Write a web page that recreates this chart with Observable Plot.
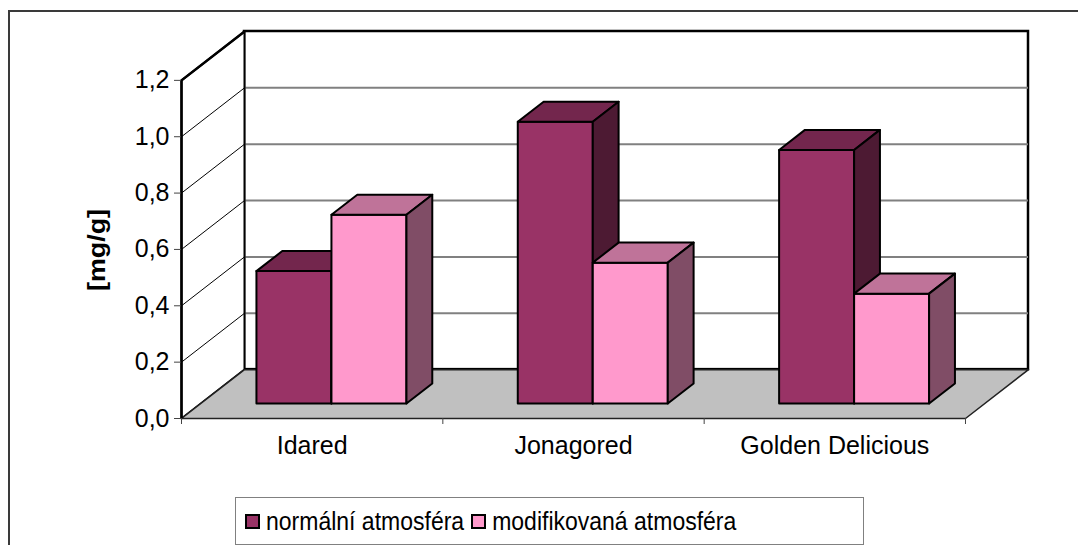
<!DOCTYPE html>
<html>
<head>
<meta charset="utf-8">
<script src="https://cdn.jsdelivr.net/npm/d3@7"></script>
<script src="https://cdn.jsdelivr.net/npm/@observablehq/plot@0.6"></script>
<style>
  html, body { margin: 0; padding: 0; background: #fff; overflow: hidden; }
  body { width: 1078px; height: 545px; position: relative; font-family: "Liberation Sans", Arial, sans-serif; }
  #frame { position: absolute; left: 8px; top: 10px; width: 1200px; height: 700px; border: 2px solid #3a3a3a; box-sizing: border-box; }
  #chart { position: absolute; left: 0; top: 0; }
  #ytitle { position: absolute; left: 97px; top: 250px; transform: translate(-50%, -50%) rotate(-90deg) scaleX(1.12); font-weight: bold; font-size: 24px; white-space: nowrap; }
  #legend { position: absolute; left: 235px; top: 497px; width: 629px; height: 48px; border: 1px solid #808080; box-sizing: border-box; display: flex; align-items: center; padding-left: 9px; font-size: 23px; white-space: nowrap; background: #fff; }
  #legend span { display: inline-block; transform: scaleY(1.12); }
  .item { display: flex; align-items: center; margin-right: 7px; }
  .sw { width: 11px; height: 11px; border: 2px solid #000; margin-right: 6px; }
</style>
</head>
<body>
<div id="frame"></div>
<div id="chart"></div>
<div id="ytitle">[mg/g]</div>
<div id="legend"></div>
<script>
// ---- data ----
const categories = ["Idared", "Jonagored", "Golden Delicious"];
const seriesNames = ["normální atmosféra", "modifikovaná atmosféra"];
const normal = [0.47, 1.0, 0.90];
const modified = [0.67, 0.50, 0.39];
const yTicks = [0, 0.2, 0.4, 0.6, 0.8, 1.0, 1.2];
const series = [normal, modified];

// ---- styling ----
const faceColors = [
  {front: "#993366", top: "#73264d", side: "#4d1a33"},
  {front: "#ff99cc", top: "#bf7399", side: "#804d66"}
];

// oblique depth offsets in data units
const dX = 63 / 261.33;   // category units
const dY = 49 / 282.5;    // value units
const yMax = 1.2;
const f0 = 0.306, f1 = 0.716;  // bar depth (front, back) as fraction of full depth
const barW = 75 / 261.33;

const P = (x, v, f) => ({x: x + f * dX, y: v + f * dY});

const polys = [];
function addPoly(id, fill, pts) {
  pts.forEach(p => polys.push({id, fill, x: p.x, y: p.y}));
}

// bars
categories.forEach((c, i) => {
  series.forEach((vals, j) => {
    const v = vals[i];
    const xa = i + 0.5 - barW + j * barW;
    const xb = xa + barW;
    const col = faceColors[j];
    addPoly(`f${i}${j}`, col.front, [P(xa, 0, f0), P(xb, 0, f0), P(xb, v, f0), P(xa, v, f0)]);
    addPoly(`t${i}${j}`, col.top, [P(xa, v, f0), P(xb, v, f0), P(xb, v, f1), P(xa, v, f1)]);
    addPoly(`s${i}${j}`, col.side, [P(xb, 0, f0), P(xb, 0, f1), P(xb, v, f1), P(xb, v, f0)]);
  });
});

const leftWall = [P(0, 0, 0), P(0, 0, 1), P(0, yMax, 1), P(0, yMax, 0)].map(p => ({...p, id: "lw"}));
const floor = [P(0, 0, 0), P(3, 0, 0), P(3, 0, 1), P(0, 0, 1)].map(p => ({...p, id: "fl"}));
const gridTicks = yTicks.filter(t => t > 0 && t < yMax);

const fmt = d => d.toFixed(1).replace(".", ",");

const chart = Plot.plot({
  width: 1078,
  height: 545,
  marginLeft: 181,
  marginRight: 50,
  marginTop: 31,
  marginBottom: 127,
  style: {fontFamily: "'Liberation Sans', Arial, sans-serif", fontSize: "24px", background: "transparent", overflow: "visible"},
  x: {domain: [0, 3 + dX], axis: null},
  y: {domain: [0, yMax + dY], axis: null},
  color: {type: "identity"},
  marks: [
    // back wall
    Plot.rect([0], {x1: dX, x2: 3 + dX, y1: dY, y2: yMax + dY, fill: "white", stroke: "black", strokeWidth: 2.5}),
    Plot.ruleY(gridTicks, {y: d => d + dY, x1: dX, x2: 3 + dX, stroke: "#808080", strokeWidth: 2}),
    // left wall
    Plot.line(leftWall, {x: "x", y: "y", z: "id", fill: "white", stroke: "black", strokeWidth: 2, curve: "linear-closed"}),
    Plot.link(gridTicks, {x1: 0, y1: d => d, x2: dX, y2: d => d + dY, stroke: "black", strokeWidth: 1}),
    // floor
    Plot.line(floor, {x: "x", y: "y", z: "id", fill: "#c0c0c0", stroke: "#222", strokeWidth: 1.5, curve: "linear-closed"}),
    // front axis edge
    Plot.ruleX([0], {y1: 0, y2: yMax, stroke: "black", strokeWidth: 2.5}),
    Plot.link([0], {x1: 0, y1: yMax, x2: dX, y2: yMax + dY, stroke: "black", strokeWidth: 2.5}),
    // bars
    Plot.line(polys, {x: "x", y: "y", z: "id", fill: "fill", stroke: "black", strokeWidth: 2, strokeLinejoin: "round", curve: "linear-closed"}),
    // axes
    Plot.axisY(yTicks, {anchor: "left", label: null, tickSize: 7, tickPadding: 5, tickFormat: fmt, fontSize: 25, stroke: "#444"}),
    Plot.axisX([0, 1, 2, 3], {anchor: "bottom", label: null, tickSize: 6, tickFormat: () => "", stroke: "#444"}),
    Plot.axisX([0.5, 1.5, 2.5], {anchor: "bottom", label: null, tickSize: 0, tickPadding: 18, tickFormat: d => categories[Math.floor(d)], fontSize: 25})
  ]
});
document.getElementById("chart").appendChild(chart);

// legend
const leg = document.getElementById("legend");
seriesNames.forEach((name, j) => {
  const it = document.createElement("div");
  it.className = "item";
  const sw = document.createElement("div");
  sw.className = "sw";
  sw.style.background = faceColors[j].front;
  const t = document.createElement("span");
  t.textContent = name;
  it.appendChild(sw); it.appendChild(t);
  leg.appendChild(it);
});
</script>
</body>
</html>
